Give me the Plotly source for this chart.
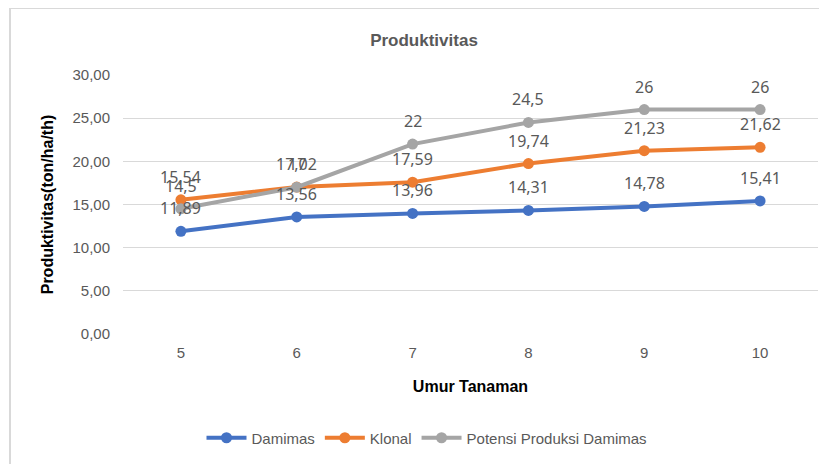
import plotly.graph_objects as go

umur = [5, 6, 7, 8, 9, 10]
damimas = [11.89, 13.56, 13.96, 14.31, 14.78, 15.41]
klonal = [15.54, 17.02, 17.59, 19.74, 21.23, 21.62]
potensi = [14.5, 17, 22, 24.5, 26, 26]
y_ticks = [0, 5, 10, 15, 20, 25, 30]

series = [
    ("Damimas", damimas, "#4472C4"),
    ("Klonal", klonal, "#ED7D31"),
    ("Potensi Produksi Damimas", potensi, "#A5A5A5"),
]

narrow = "Liberation Sans Narrow, Arial Narrow, Liberation Sans, sans-serif"
label_font = "Noto Sans, Open Sans, DejaVu Sans, sans-serif"

fig = go.Figure()
for name, vals, col in series:
    fig.add_trace(go.Scatter(
        x=umur, y=vals, name=name,
        mode="lines+markers",
        line=dict(color=col, width=4),
        marker=dict(color=col, size=11),
        cliponaxis=False,
    ))
    for u, v in zip(umur, vals):
        fig.add_annotation(
            x=u, y=v, text=str(v).replace(".", ","), showarrow=False,
            yshift=23, xanchor="center", yanchor="middle",
            font=dict(family=label_font, size=16, color="#595959"),
        )

OFF = 8  # browser body margin
W, H = 827 - OFF, 464 - OFF
L, T = 123 - OFF, 75 - OFF
R = W - (818 - OFF)
B = H - (334 - OFF)
pw, ph = W - L - R, H - T - B

def px(x):
    return (x - OFF - L) / pw

def py(y):
    return (H - B - (y - OFF)) / ph

fig.update_layout(
    width=W, height=H,
    margin=dict(l=L, r=R, t=T, b=B),
    paper_bgcolor="white", plot_bgcolor="white",
    separators=",.",
    title=dict(text="<b>Produktivitas</b>", x=(424 - OFF) / W, xanchor="center",
               y=1 - (40 - OFF) / H, yanchor="middle",
               font=dict(family=narrow, size=17, color="#595959")),
    xaxis=dict(
        type="linear", showgrid=False, zeroline=False, showline=False,
        tickvals=umur, ticks="", ticklabelstandoff=8,
        tickfont=dict(family=narrow, size=15, color="#595959"),
        title=dict(text="<b>Umur Tanaman</b>", standoff=20,
                   font=dict(family=narrow, size=16, color="#000000")),
        range=[umur[0] - 0.5, umur[-1] + 0.5],
    ),
    yaxis=dict(
        range=[0, 30], tickvals=y_ticks, tickformat=".2f",
        showgrid=True, gridcolor="#D9D9D9", gridwidth=1,
        zeroline=False, showline=False, ticks="",
        ticklabelstandoff=12,
        tickfont=dict(family=narrow, size=15, color="#595959"),
        title=dict(text="<b>Produktivitas(ton/ha/th)</b>", standoff=14,
                   font=dict(family=narrow, size=16, color="#000000")),
    ),
    legend=dict(orientation="h", x=px(427), xanchor="center",
                y=py(438), yanchor="middle",
                font=dict(family=narrow, size=15, color="#595959"),
                itemwidth=40, tracegroupgap=0),
    showlegend=True,
)

fig.add_shape(type="line", xref="paper", yref="paper",
              x0=px(10), x1=px(10), y0=py(H + 20), y1=py(8),
              line=dict(color="#D9D9D9", width=2))
fig.add_shape(type="line", xref="paper", yref="paper",
              x0=px(10), x1=px(W + 20), y0=py(8), y1=py(8),
              line=dict(color="#D9D9D9", width=2))

fig.write_html("out.html")
